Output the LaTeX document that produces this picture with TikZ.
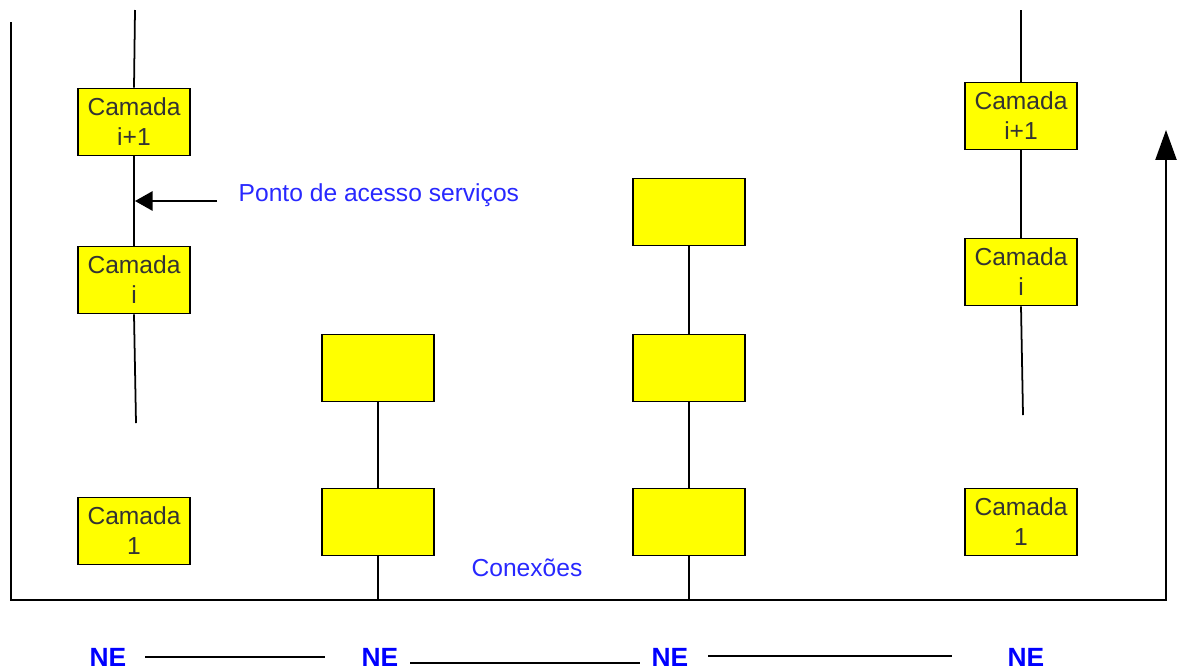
\documentclass[tikz,border=0pt]{standalone}
\usepackage{fontspec}
\setmainfont{Liberation Sans}
\usetikzlibrary{arrows.meta}
\definecolor{boxyellow}{RGB}{255,255,0}
\definecolor{txtblue}{RGB}{40,40,255}
\begin{document}
\begin{tikzpicture}[x=0.02cm,y=-0.02cm,line width=1pt,
  layer/.style={draw=black,fill=boxyellow,minimum width=2.24cm,minimum height=1.34cm,inner sep=0pt,align=center,font=\fontsize{14}{17}\selectfont,text=black!80},
  note/.style={text=txtblue,font=\fontsize{14}{16}\selectfont},
  ne/.style={text=blue,font=\fontsize{15}{17}\selectfont\bfseries}]
\useasboundingbox (0,0) rectangle (1179,670);
% sistema A
\coordinate (a0) at (135,10);
\node[layer] (a3) at (134,122) {Camada\\i+1};
\node[layer] (a2) at (134,280) {Camada\\i};
\coordinate (a2e) at (136,423);
\node[layer] (a1) at (134,531) {Camada\\1};
\draw (a0) -- (a3.north);
\draw (a3.south) -- (a2.north);
\draw (a2.south) -- (a2e);
% ponto de acesso
\coordinate (pa) at (217,201);
\coordinate (pb) at (135,201);
\draw[-{Triangle[length=10pt,width=11pt]}] (pa) -- (pb);
\node[note,anchor=west] (sap) at (232,195) {Ponto de acesso serviços};
% no B
\node[layer] (b2) at (378,368) {};
\node[layer] (b1) at (378,522) {};
\coordinate (bg) at (378,600);
\draw (b2.south) -- (b1.north);
\draw (b1.south) -- (bg);
% no C
\node[layer] (c3) at (689,212) {};
\node[layer] (c2) at (689,368) {};
\node[layer] (c1) at (689,522) {};
\coordinate (cg) at (689,600);
\draw (c3.south) -- (c2.north);
\draw (c2.south) -- (c1.north);
\draw (c1.south) -- (cg);
% sistema D
\coordinate (d0) at (1021,10);
\node[layer] (d3) at (1021,116) {Camada\\i+1};
\node[layer] (d2) at (1021,272) {Camada\\i};
\coordinate (d2e) at (1023,415);
\node[layer] (d1) at (1021,522) {Camada\\1};
\draw (d0) -- (d3.north);
\draw (d3.south) -- (d2.north);
\draw (d2.south) -- (d2e);
% meio fisico
\coordinate (m0) at (11,22);
\coordinate (m1) at (11,600);
\coordinate (m2) at (1166,600);
\coordinate (m3) at (1166,130);
\draw[-{Triangle[length=17pt,width=12pt]}] (m0) -- (m1) -- (m2) -- (m3);
\node[note] (con) at (527,568) {Conexões};
% NEs
\node[ne] (ne1) at (108,657) {NE};
\node[ne] (ne2) at (380,657) {NE};
\node[ne] (ne3) at (670,657) {NE};
\node[ne] (ne4) at (1026,657) {NE};
\draw (145,657) -- (325,657);
\draw (410,663) -- (640,663);
\draw (708,656) -- (952,656);
\end{tikzpicture}
\end{document}
